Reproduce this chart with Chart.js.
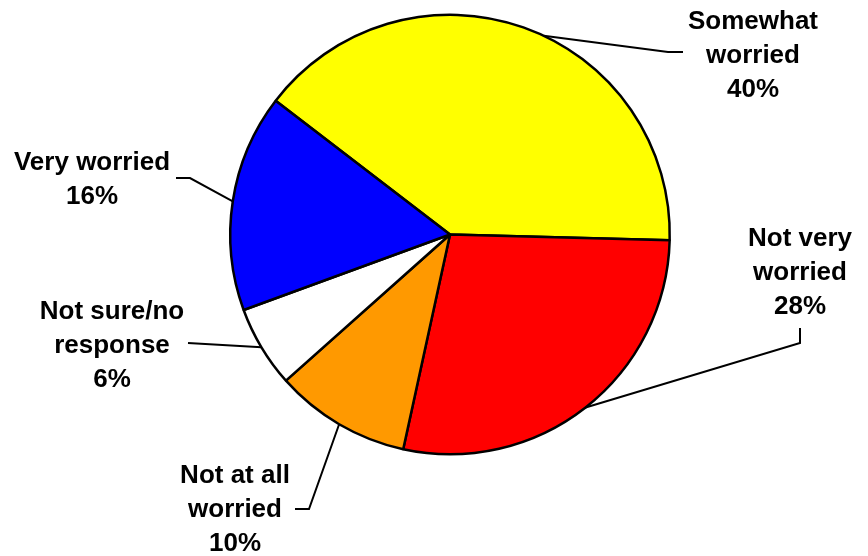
<!DOCTYPE html>
<html>
<head>
<meta charset="utf-8">
<script src="https://cdn.jsdelivr.net/npm/chart.js@4/dist/chart.umd.min.js"></script>
<style>
  html, body { margin: 0; padding: 0; background: #fff; }
  canvas { display: block; }
</style>
</head>
<body>
<canvas id="chart" width="868" height="556"></canvas>
<script>
// data, clockwise from the top-left boundary
const categories = ['Somewhat worried', 'Not very worried', 'Not at all worried', 'Not sure/no response', 'Very worried'];
const values = [40, 28, 10, 6, 16];
const sliceColors = ['#FFFF00', '#FF0000', '#FF9900', '#FFFFFF', '#0000FF'];

// label text lines (category split) and where each label sits
const labelLines = [
    ['Somewhat', 'worried'],
    ['Not very', 'worried'],
    ['Not at all', 'worried'],
    ['Not sure/no', 'response'],
    ['Very worried']
];
const labelPos = [
    {x: 753, y: 29, anchor: 0.54, path: [[668, 52], [683, 52]]},
    {x: 800, y: 246, anchor: 0.5, path: [[800, 343], [800, 328]]},
    {x: 235, y: 483, anchor: 0.5, path: [[309, 509], [295, 509]]},
    {x: 112, y: 319, anchor: 0.5, path: [[188, 343]]},
    {x: 92, y: 170, anchor: 0.5, path: [[190, 178], [176, 178]]}
];
const lineHeight = 34;


const outsideLabels = {
    id: 'outsideLabels',
    afterDraw(chart) {
        const ctx = chart.ctx;
        const meta = chart.getDatasetMeta(0);
        ctx.save();
        ctx.strokeStyle = '#000';
        ctx.lineWidth = 2;
        meta.data.forEach((arc, i) => {
            const p = labelPos[i];
            const a = arc.startAngle + (arc.endAngle - arc.startAngle) * p.anchor;
            const r = arc.outerRadius;
            ctx.beginPath();
            ctx.moveTo(arc.x + Math.cos(a) * r, arc.y + Math.sin(a) * r);
            p.path.forEach(pt => ctx.lineTo(pt[0], pt[1]));
            ctx.stroke();

            const lines = labelLines[i].concat([values[i] + '%']);
            ctx.fillStyle = '#000';
            ctx.font = 'bold 26px "Liberation Sans", Arial, sans-serif';
            ctx.textAlign = 'center';
            ctx.textBaseline = 'alphabetic';
            lines.forEach((t, j) => ctx.fillText(t, p.x, p.y + j * lineHeight));
        });
        ctx.restore();
    }
};


const data = {
    labels: categories,
    datasets: [{
        data: values,
        backgroundColor: sliceColors,
        borderColor: '#000',
        borderWidth: 2.5
    }]
};

const config = {
    type: 'pie',
    data: data,
    options: {
        responsive: false,
        animation: false,
        rotation: -52.5,
        layout: {padding: {left: 229, right: 197, top: 13, bottom: 100}},
        plugins: {
            legend: {display: false},
            tooltip: {enabled: false}
        }
    },
    plugins: [outsideLabels]
};

const pie = new Chart(document.getElementById('chart'), config);
</script>
</body>
</html>
